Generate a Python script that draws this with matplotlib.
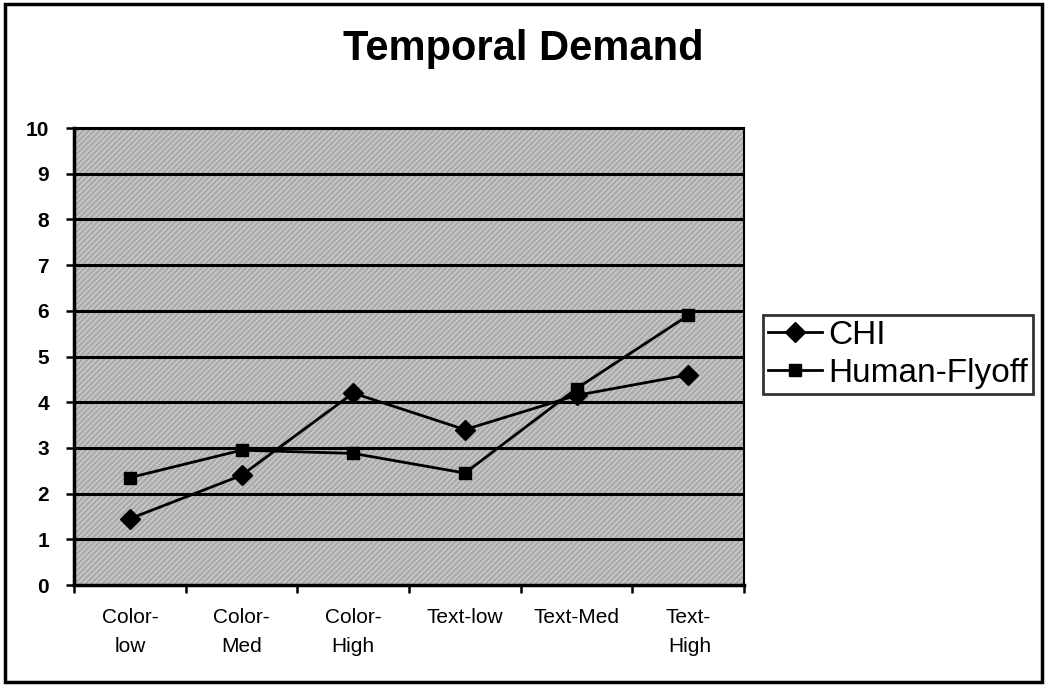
import matplotlib
matplotlib.use("Agg")
import matplotlib.pyplot as plt
from matplotlib.patches import Rectangle
import numpy as np

categories = ["Color-\nlow", "Color-\nMed", "Color-\nHigh", "Text-low", "Text-Med", "Text-\nHigh"]
chi = [1.45, 2.4, 4.2, 3.4, 4.15, 4.6]
human_flyoff = [2.35, 2.95, 2.88, 2.45, 4.3, 5.9]
y_ticks = list(range(0, 11))

plt.rcParams['font.family'] = ['Liberation Sans', 'DejaVu Sans']

fig = plt.figure(figsize=(10.47, 6.86), dpi=100)
ax = fig.add_axes([0.0707, 0.1472, 0.64, 0.6662])

x = np.arange(len(categories))
ax.set_facecolor('#ababab')
ax.add_patch(Rectangle((-0.5, 0), 6, 10, facecolor='none', edgecolor='#cdcdcd',
                       hatch='//////', linewidth=0, zorder=0.5))

for yv in y_ticks[1:]:
    ax.axhline(yv, color='black', linewidth=2.2, zorder=1)

ax.plot(x, chi, color='black', linewidth=2, marker='D', markersize=10,
        label='CHI', zorder=3)
ax.plot(x, human_flyoff, color='black', linewidth=2, marker='s', markersize=9,
        label='Human-Flyoff', zorder=3)

ax.set_xlim(-0.5, len(categories) - 0.5)
ax.set_ylim(0, 10)
ax.set_yticks(y_ticks)
ax.set_yticklabels([str(v) for v in y_ticks], fontsize=15, fontweight='bold')
ax.set_xticks(np.arange(-0.5, len(categories), 1.0))
ax.set_xticklabels([])
ax.tick_params(axis='both', direction='out', length=6, width=1.8, color='black')
ax.tick_params(axis='y', pad=12)

for i, lab in enumerate(categories):
    ma = 'right' if i == len(categories) - 1 else 'center'
    ax.text(i, -0.5, lab, ha='center', va='top', fontsize=15,
            multialignment=ma, transform=ax.transData, linespacing=1.7)

for s in ['left', 'bottom']:
    ax.spines[s].set_linewidth(2.5)
for s in ['top', 'right']:
    ax.spines[s].set_linewidth(1.5)

fig.text(0.5, 0.928, 'Temporal Demand', ha='center', va='center',
         fontsize=30, fontweight='bold')

leg = fig.legend(loc='center left', bbox_to_anchor=(0.729, 0.4835), fontsize=24,
                 frameon=True, fancybox=False, edgecolor='black',
                 handlelength=1.6, handletextpad=0.2, borderpad=0.15,
                 labelspacing=0.22, borderaxespad=0)
leg.get_frame().set_linewidth(2)

fig.patches.append(Rectangle((0.005, 0.006), 0.99, 0.988, transform=fig.transFigure,
                             fill=False, edgecolor='black', linewidth=2.5))

fig.savefig('out.png', dpi=100)
